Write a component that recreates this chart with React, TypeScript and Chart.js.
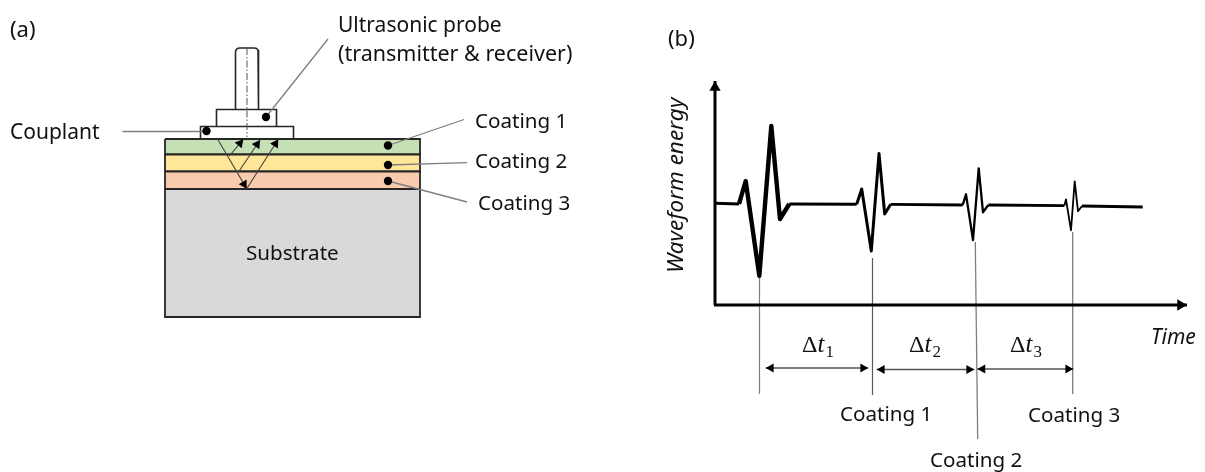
import React, { useEffect, useRef } from "react";
import { Chart, registerables } from "chart.js";

Chart.register(...registerables);

type Pt = [number, number];

// ---- panel (a): layers, probe (diagram units)
const substrate: Pt[] = [[165, 189], [420, 189], [420, 317], [165, 317], [165, 189]];
const coating1: Pt[] = [[165, 139], [420, 139], [420, 154.5], [165, 154.5], [165, 139]];
const coating2: Pt[] = [[165, 154.5], [420, 154.5], [420, 171.5], [165, 171.5], [165, 154.5]];
const coating3: Pt[] = [[165, 171.5], [420, 171.5], [420, 189], [165, 189], [165, 171.5]];
const couplant: Pt[] = [[200.5, 138.5], [200.5, 126.5], [293.5, 126.5], [293.5, 138.5]];
const probeBody: Pt[] = [[216.5, 126.5], [216.5, 109.5], [276.5, 109.5], [276.5, 126.5]];
const probeStem: Pt[] = [[235.5, 109.5], [235.5, 52], [236, 50], [237.5, 48.5], [239.5, 48], [254.5, 48], [256.5, 48.5], [258, 50], [258.5, 52], [258.5, 109.5]];
const centreLine: Pt[] = [[247, 48], [247, 137]];

const calloutDots: Pt[] = [[206.5, 131], [266, 117], [388, 145.5], [388, 165], [388, 181]];
const calloutCouplant: Pt[] = [[122.5, 131.5], [206, 131.5]];
const calloutProbe: Pt[] = [[266, 117], [328, 39]];
const calloutCoating1: Pt[] = [[388, 145.5], [464, 119.5]];
const calloutCoating2: Pt[] = [[388, 165], [467, 162.7]];
const calloutCoating3: Pt[] = [[388, 181], [467, 202]];

const rayDown: Pt[] = [[217.7, 139.3], [246.7, 188.7]];
const rayUp3: Pt[] = [[246.7, 188.7], [278.3, 139.3]];
const rayUp2: Pt[] = [[238.3, 172.3], [260, 140]];
const rayUp1: Pt[] = [[229.3, 156], [243.3, 139.3]];

// ---- panel (b): axes, waveform
const axisY: Pt[] = [[715, 305], [715, 81]];
const axisX: Pt[] = [[714, 305], [1187, 305]];

const baseline1: Pt[] = [[715, 203.3], [739, 204]];
const pulse1: Pt[] = [[739, 204], [745.7, 181], [759.3, 275.7], [771.3, 126], [780, 219], [789.3, 204]];
const baseline2: Pt[] = [[789.3, 204], [856.7, 204.3]];
const pulse2: Pt[] = [[856.7, 204.3], [861.7, 189], [871.3, 251], [879, 153.5], [884.7, 214], [890.7, 204.3]];
const baseline3: Pt[] = [[890.7, 204.3], [962.7, 205]];
const pulse3: Pt[] = [[962.7, 205], [966, 194.3], [973, 240], [978.7, 168.3], [983, 212.3], [988.3, 205]];
const baseline4: Pt[] = [[988.3, 205], [1064.3, 205.7]];
const pulse4: Pt[] = [[1064.3, 205.7], [1066, 199.3], [1071, 230.3], [1074.7, 181.3], [1078, 211.3], [1082, 206]];
const baseline5: Pt[] = [[1082, 206], [1142.7, 207]];

const guide1: Pt[] = [[759.5, 277], [759.5, 394]];
const guide2: Pt[] = [[872.5, 258], [872.5, 395]];
const guide3: Pt[] = [[975.3, 242], [977.7, 439]];
const guide4: Pt[] = [[1072.7, 232], [1072.7, 394]];

const span1: Pt[] = [[765.7, 368], [868.3, 368]];
const span2: Pt[] = [[876.7, 369.5], [974.3, 369.5]];
const span3: Pt[] = [[977.3, 369], [1073.3, 369]];

// ---- texts
const sans = '"Noto Sans"';
const textItems: { t: string; x: number; y: number; s: number }[] = [
  { t: "(a)", x: 10, y: 37, s: 22 },
  { t: "(b)", x: 668, y: 46, s: 22 },
  { t: "Couplant", x: 10, y: 139, s: 21 },
  { t: "Ultrasonic probe", x: 338, y: 32, s: 21 },
  { t: "(transmitter & receiver)", x: 338, y: 61, s: 21.5 },
  { t: "Coating 1", x: 475, y: 128, s: 20.6 },
  { t: "Coating 2", x: 475, y: 168, s: 20.6 },
  { t: "Coating 3", x: 478, y: 210, s: 20.6 },
  { t: "Substrate", x: 246, y: 260, s: 20.6 },
  { t: "Coating 1", x: 840, y: 421, s: 20.6 },
  { t: "Coating 2", x: 930, y: 467, s: 20.6 },
  { t: "Coating 3", x: 1028, y: 422, s: 20.6 },
];
const deltaLabels: { sub: string; x: number; y: number }[] = [
  { sub: "1", x: 802, y: 352 },
  { sub: "2", x: 909, y: 352 },
  { sub: "3", x: 1010, y: 352 },
];

const INK = "#111111";
const GREY = "#7f7f7f";
const OUTLINE = "#262626";

const toData = (p: Pt[]) => p.map(([x, y]) => ({ x, y }));

function line(p: Pt[], color: string, width: number, extra: object = {}) {
  return { type: "line", data: toData(p), borderColor: color, borderWidth: width, pointRadius: 0, tension: 0, fill: false, clip: false, ...extra };
}
function poly(p: Pt[], fillColor: string, stroke: string, width: number) {
  return line(p, stroke, width, { backgroundColor: fillColor, fill: "shape" });
}
// triangle marker whose tip lands on `tip`, pointing away from `from`
function head(from: Pt, tip: Pt, color: string, r: number) {
  const dx = tip[0] - from[0];
  const dy = tip[1] - from[1];
  const len = Math.hypot(dx, dy);
  const c: Pt = [tip[0] - (dx / len) * r, tip[1] - (dy / len) * r];
  return {
    type: "line",
    data: toData([c]),
    showLine: false,
    pointStyle: "triangle",
    pointRadius: r,
    pointRotation: (Math.atan2(dy, dx) * 180) / Math.PI + 90,
    pointBackgroundColor: color,
    pointBorderColor: color,
    pointBorderWidth: 0,
    clip: false,
  };
}
const arrow = (p: Pt[], w: number, color: string, r: number, headColor = color) => [line(p, color, w), head(p[0], p[1], headColor, r)];
const doubleArrow = (p: Pt[]) => [
  line(p, "#555555", 1.3),
  head(p[1], p[0], "#000000", 5.3),
  head(p[0], p[1], "#000000", 5.3),
];

const textPlugin = {
  id: "diagramText",
  afterDatasetsDraw(chart: any) {
    const { ctx, scales } = chart;
    const px = (v: number) => scales.x.getPixelForValue(v);
    const py = (v: number) => scales.y.getPixelForValue(v);
    ctx.save();
    ctx.fillStyle = INK;
    ctx.textAlign = "left";
    ctx.textBaseline = "alphabetic";
    for (const it of textItems) {
      ctx.font = `${it.s}px ${sans}`;
      ctx.fillText(it.t, px(it.x), py(it.y));
    }

    ctx.font = `italic 21px ${sans}`;
    ctx.fillText("Time", px(1151), py(344));

    ctx.save();
    ctx.translate(px(683), py(273));
    ctx.rotate(-Math.PI / 2);
    ctx.font = `italic 22.5px ${sans}`;
    ctx.fillText("Waveform energy", 0, 0);
    ctx.restore();

    for (const d of deltaLabels) {
      ctx.font = `24px "Liberation Serif"`;
      ctx.fillText("Δ", px(d.x), py(d.y));
      ctx.font = `italic 25px "Liberation Serif"`;
      ctx.fillText("t", px(d.x + 15.5), py(d.y));
      ctx.font = `17px "Liberation Serif"`;
      ctx.fillText(d.sub, px(d.x + 23.5), py(d.y + 5));
    }
    ctx.restore();
  },
};

export default function App() {
  const ref = useRef<HTMLCanvasElement>(null);
  useEffect(() => {
    if (!ref.current) return;
    const painted: any[] = [
      poly(substrate, "#d9d9d9", OUTLINE, 1.8),
      poly(coating1, "#c5e0b4", OUTLINE, 1.8),
      poly(coating2, "#ffe699", OUTLINE, 1.8),
      poly(coating3, "#f8cbad", OUTLINE, 1.8),
      line(couplant, OUTLINE, 1.6),
      line(probeBody, OUTLINE, 1.6),
      line(probeStem, OUTLINE, 1.6),
      line(centreLine, "#555555", 1, { borderDash: [7, 2, 1.5, 2] }),
      line(calloutCouplant, GREY, 1.3),
      line(calloutProbe, GREY, 1.3),
      line(calloutCoating1, GREY, 1.3),
      line(calloutCoating2, GREY, 1.3),
      line(calloutCoating3, GREY, 1.3),
      ...arrow(rayDown, 1.1, "#404040", 5.3, "#000000"),
      ...arrow(rayUp1, 1.1, "#404040", 5.3, "#000000"),
      ...arrow(rayUp2, 1.1, "#404040", 5.3, "#000000"),
      ...arrow(rayUp3, 1.1, "#404040", 5.3, "#000000"),
      {
        type: "line",
        data: toData(calloutDots),
        showLine: false,
        pointRadius: 4.2,
        pointBackgroundColor: "#000000",
        pointBorderWidth: 0,
        clip: false,
      },
      line(guide1, GREY, 1.2),
      line(guide2, "#5a5a5a", 1.2),
      line(guide3, GREY, 1.3),
      line(guide4, GREY, 1.3),
      ...arrow(axisY, 3, "#000000", 6.5),
      ...arrow(axisX, 3, "#000000", 6.5),
      line(baseline1, "#000000", 3),
      line(pulse1, "#000000", 4.4, { borderJoinStyle: "round" }),
      line(baseline2, "#000000", 3),
      line(pulse2, "#000000", 3, { borderJoinStyle: "round" }),
      line(baseline3, "#000000", 2.8),
      line(pulse3, "#000000", 2.3, { borderJoinStyle: "round" }),
      line(baseline4, "#000000", 2.8),
      line(pulse4, "#000000", 1.8, { borderJoinStyle: "round" }),
      line(baseline5, "#000000", 2.8),
      ...doubleArrow(span1),
      ...doubleArrow(span2),
      ...doubleArrow(span3),
    ];
    const chart = new Chart(ref.current, {
      type: "line",
      data: { datasets: painted.reverse() },
      options: {
        animation: false,
        responsive: false,
        events: [],
        layout: { padding: 0, autoPadding: false },
        plugins: { legend: { display: false }, tooltip: { enabled: false } },
        scales: {
          x: { type: "linear", min: 0, max: 1205, display: false },
          y: { type: "linear", min: 0, max: 472, reverse: true, display: false },
        },
      },
      plugins: [textPlugin],
    } as any);
    return () => chart.destroy();
  }, []);
  return (
    <div style={{ position: "fixed", left: 0, top: 0, width: 1205, height: 472, background: "#fff" }}>
      <canvas ref={ref} width={1205} height={472} style={{ display: "block" }} />
    </div>
  );
}
